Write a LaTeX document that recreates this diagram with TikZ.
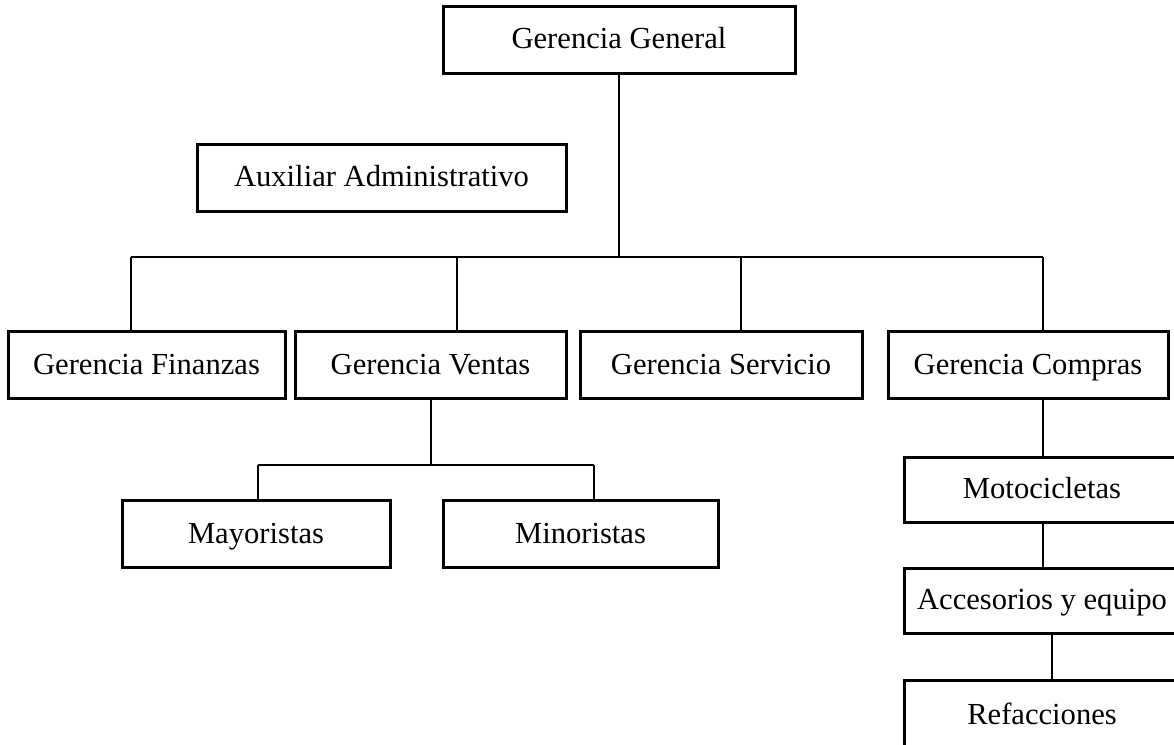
\documentclass[tikz,border=0pt]{standalone}
\usepackage{fontspec}
\setmainfont{Liberation Serif}
\tikzset{
	orgnode/.style = {draw=black, line width=3pt, inner sep=0pt, align=center, text height=21pt, text depth=3pt, font=\fontsize{30.6}{36}\selectfont},
	wide/.style = {orgnode, minimum width=#1, minimum height=67pt},
	linea/.style = {draw=black, line width=1.5pt}
}
\begin{document}
\begin{tikzpicture}[x=1pt, y=-1pt]
		\useasboundingbox (0,0) rectangle (1174,744);
		\clip (0,0) rectangle (1174,744);
		% top
		\node [wide=352pt] (general) at (619,39.5) {Gerencia General};
		\node [wide=369pt] (auxiliar) at (381.5,177.5) {Auxiliar Administrativo};
		% gerencias
		\node [wide=277pt] (finanzas) at (146.5,365) {Gerencia Finanzas};
		\node [wide=271pt] (ventas) at (430.5,365) {Gerencia Ventas};
		\node [wide=282pt] (servicio) at (721,365) {Gerencia Servicio};
		\node [wide=280pt] (compras) at (1028,365) {Gerencia Compras};
		% ventas
		\node [wide=268pt] (mayoristas) at (256,534) {Mayoristas};
		\node [wide=275pt] (minoristas) at (580.5,534) {Minoristas};
		% compras
		\node [wide=275pt, minimum height=65pt] (motos) at (1042,489.5) {Motocicletas};
		\node [wide=275pt, minimum height=65pt] (accesorios) at (1042,600.5) {Accesorios y equipo};
		\node [wide=275pt, minimum height=70pt] (refacciones) at (1042,715) {Refacciones};
		% connectors
		\coordinate (bus) at (619,257);
		\coordinate (busA) at (131,257);
		\coordinate (busB) at (457,257);
		\coordinate (busC) at (741,257);
		\coordinate (busD) at (1043,257);
		\draw [linea] (general) -- (bus);
		\draw [linea] (busA) -- (busD);
		\draw [linea] (busA) -- (busA |- finanzas.north);
		\draw [linea] (busB) -- (busB |- ventas.north);
		\draw [linea] (busC) -- (busC |- servicio.north);
		\draw [linea] (busD) -- (busD |- compras.north);
		\coordinate (vmid) at (431,465);
		\coordinate (vleft) at (258,465);
		\coordinate (vright) at (594,465);
		\draw [linea] (vmid |- ventas.south) -- (vmid);
		\draw [linea] (vleft) -- (vright);
		\draw [linea] (vleft) -- (vleft |- mayoristas.north);
		\draw [linea] (vright) -- (vright |- minoristas.north);
		\coordinate (cline) at (1043,0);
		\coordinate (rline) at (1052,0);
		\draw [linea] (cline |- compras.south) -- (cline |- motos.north);
		\draw [linea] (cline |- motos.south) -- (cline |- accesorios.north);
		\draw [linea] (rline |- accesorios.south) -- (rline |- refacciones.north);
\end{tikzpicture}
\end{document}
